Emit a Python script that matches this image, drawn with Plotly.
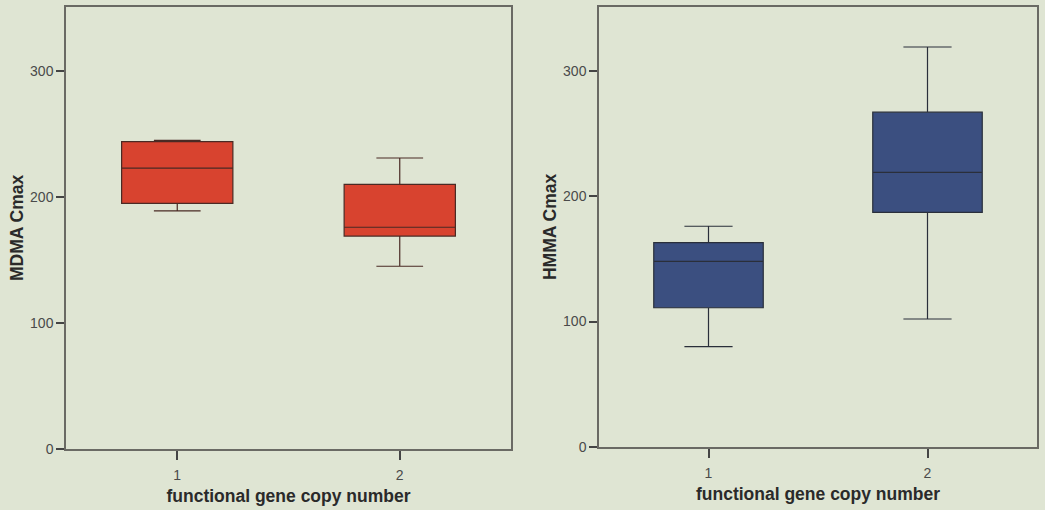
import plotly.graph_objects as go

categories = [1, 2]

# MDMA Cmax (left panel)
mdma_lower = [189, 145]
mdma_q1 = [195, 169]
mdma_median = [223, 176]
mdma_q3 = [244, 210]
mdma_upper = [245, 231]

# HMMA Cmax (right panel)
hmma_lower = [80, 102]
hmma_q1 = [111, 187]
hmma_median = [148, 219]
hmma_q3 = [163, 267]
hmma_upper = [176, 319]

y_ticks = [0, 100, 200, 300]
x_title = "functional gene copy number"

BG = "#dfe5d3"
RED = "#d8432f"
BLUE = "#3b4f80"
LINE = "#6a6a64"

fig = go.Figure()

fig.add_trace(go.Box(
    x=categories, q1=mdma_q1, median=mdma_median, q3=mdma_q3,
    lowerfence=mdma_lower, upperfence=mdma_upper,
    fillcolor=RED, line=dict(color="#4a2a24", width=1.2),
    width=0.5, whiskerwidth=0.42, boxpoints=False,
    xaxis="x", yaxis="y", showlegend=False, hoverinfo="skip",
))
fig.add_trace(go.Box(
    x=categories, q1=hmma_q1, median=hmma_median, q3=hmma_q3,
    lowerfence=hmma_lower, upperfence=hmma_upper,
    fillcolor=BLUE, line=dict(color="#2a2f3a", width=1.2),
    width=0.5, whiskerwidth=0.44, boxpoints=False,
    xaxis="x2", yaxis="y2", showlegend=False, hoverinfo="skip",
))

tickfont = dict(family="Liberation Sans, Arial, sans-serif", size=14, color="#4a4a4a")
titlefont = dict(family="Liberation Sans, Arial, sans-serif", size=17.5, color="#2a2a2a", weight="bold")

def xax(domain, anchor):
    return dict(
        domain=domain, anchor=anchor, range=[0.5, 2.5],
        tickmode="array", tickvals=categories, ticktext=["1", "2"],
        ticks="outside", ticklen=9, tickwidth=2, tickcolor="#444",
        ticklabelstandoff=4,
        showline=True, linecolor=LINE, linewidth=1.5, mirror=True,
        showgrid=False, zeroline=False, tickfont=tickfont,
        title=dict(text=x_title, font=titlefont, standoff=7),
    )

def yax(domain, anchor, title):
    return dict(
        domain=domain, anchor=anchor, range=[0, 351],
        tickmode="array", tickvals=y_ticks,
        ticks="outside", ticklen=8, tickwidth=2, tickcolor="#444",
        showline=True, linecolor=LINE, linewidth=1.5, mirror=True,
        showgrid=False, zeroline=False, tickfont=tickfont,
        title=dict(text=title, font=titlefont, standoff=2),
    )

fig.update_layout(
    width=1045, height=510,
    margin=dict(l=0, r=0, t=0, b=0),
    paper_bgcolor=BG, plot_bgcolor=BG,
    xaxis=xax([66 / 1045, 511 / 1045], "y"),
    yaxis=yax([1 - 456 / 510, 1 - 7 / 510], "x", "MDMA Cmax"),
    xaxis2=xax([599 / 1045, 1037 / 1045], "y2"),
    yaxis2=yax([1 - 454 / 510, 1 - 7 / 510], "x2", "HMMA Cmax"),
)

fig.write_html(
    "out.html",
    config={"displayModeBar": False},
    post_script="document.body.style.margin='0';document.body.style.background='%s';" % BG,
)
